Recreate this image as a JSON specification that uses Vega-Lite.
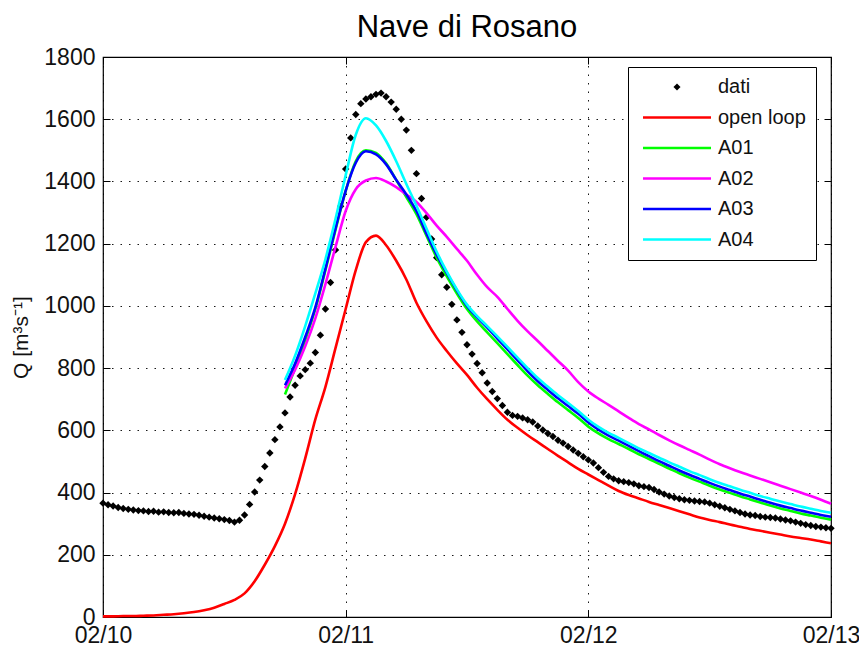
{
  "$schema": "https://vega.github.io/schema/vega-lite/v6.json",
  "width": 728,
  "height": 560,
  "autosize": "none",
  "padding": {"left": 103, "top": 57, "right": 28, "bottom": 34},
  "background": "white",
  "title": {
    "text": "Nave di Rosano",
    "font": "Liberation Sans",
    "fontSize": 31,
    "fontWeight": "normal",
    "color": "black",
    "anchor": "middle",
    "offset": 2
  },
  "config": {
    "view": {"stroke": "black", "strokeWidth": 1.2},
    "axis": {
      "labelFont": "Liberation Sans Narrow, Liberation Sans",
      "labelFontSize": 23,
      "labelColor": "#111111",
      "labelFlush": false,
      "tickColor": "black",
      "tickSize": -7,
      "tickWidth": 1,
      "domain": false,
      "gridColor": "black",
      "gridDash": [1.5, 7],
      "gridWidth": 1,
      "gridOpacity": 0.9,
      "titleFont": "Liberation Sans",
      "titleFontWeight": "normal",
      "titleColor": "#111111"
    }
  },
  "datasets": {
    "dati": [
      {"h":0,"q":366},{"h":0.5,"q":361},{"h":1,"q":357},{"h":1.5,"q":352},{"h":2,"q":349},{"h":2.5,"q":346},
      {"h":3,"q":344},{"h":3.5,"q":342},{"h":4,"q":341},{"h":4.5,"q":339},{"h":5,"q":340},{"h":5.5,"q":337},
      {"h":6,"q":338},{"h":6.5,"q":336},{"h":7,"q":335},{"h":7.5,"q":336},{"h":8,"q":333},{"h":8.5,"q":331},
      {"h":9,"q":330},{"h":9.5,"q":327},{"h":10,"q":324},{"h":10.5,"q":321},{"h":11,"q":318},{"h":11.5,"q":316},
      {"h":12,"q":313},{"h":12.5,"q":310},{"h":13,"q":305},{"h":13.5,"q":311},{"h":14,"q":328},{"h":14.5,"q":362},
      {"h":15,"q":402},{"h":15.5,"q":440},{"h":16,"q":484},{"h":16.5,"q":527},{"h":17,"q":570},{"h":17.5,"q":611},
      {"h":18,"q":656},{"h":18.5,"q":707},{"h":19,"q":745},{"h":19.5,"q":775},{"h":20,"q":795},{"h":20.5,"q":816},
      {"h":21,"q":850},{"h":21.5,"q":906},{"h":22,"q":990},{"h":22.5,"q":1075},{"h":23,"q":1180},{"h":23.5,"q":1320},
      {"h":24,"q":1440},{"h":24.5,"q":1540},{"h":25,"q":1615},{"h":25.5,"q":1650},{"h":26,"q":1665},{"h":26.5,"q":1672},
      {"h":27,"q":1680},{"h":27.5,"q":1684},{"h":28,"q":1672},{"h":28.5,"q":1655},{"h":29,"q":1632},{"h":29.5,"q":1600},
      {"h":30,"q":1565},{"h":30.5,"q":1500},{"h":31,"q":1425},{"h":31.5,"q":1345},{"h":32,"q":1285},{"h":32.5,"q":1215},
      {"h":33,"q":1155},{"h":33.5,"q":1100},{"h":34,"q":1060},{"h":34.5,"q":1005},{"h":35,"q":955},{"h":35.5,"q":915},
      {"h":36,"q":875},{"h":36.5,"q":845},{"h":37,"q":815},{"h":37.5,"q":785},{"h":38,"q":752},{"h":38.5,"q":725},
      {"h":39,"q":702},{"h":39.5,"q":680},{"h":40,"q":658},{"h":40.5,"q":648},{"h":41,"q":645},{"h":41.5,"q":640},
      {"h":42,"q":634},{"h":42.5,"q":627},{"h":43,"q":614},{"h":43.5,"q":601},{"h":44,"q":590},{"h":44.5,"q":580},
      {"h":45,"q":568},{"h":45.5,"q":559},{"h":46,"q":548},{"h":46.5,"q":537},{"h":47,"q":526},{"h":47.5,"q":515},
      {"h":48,"q":505},{"h":48.5,"q":495},{"h":49,"q":480},{"h":49.5,"q":465},{"h":50,"q":452},{"h":50.5,"q":444},
      {"h":51,"q":438},{"h":51.5,"q":435},{"h":52,"q":432},{"h":52.5,"q":428},{"h":53,"q":422},{"h":53.5,"q":419},
      {"h":54,"q":416},{"h":54.5,"q":410},{"h":55,"q":402},{"h":55.5,"q":395},{"h":56,"q":389},{"h":56.5,"q":384},
      {"h":57,"q":380},{"h":57.5,"q":377},{"h":58,"q":375},{"h":58.5,"q":373},{"h":59,"q":371},{"h":59.5,"q":370},
      {"h":60,"q":366},{"h":60.5,"q":361},{"h":61,"q":356},{"h":61.5,"q":351},{"h":62,"q":346},{"h":62.5,"q":341},
      {"h":63,"q":336},{"h":63.5,"q":331},{"h":64,"q":328},{"h":64.5,"q":326},{"h":65,"q":323},{"h":65.5,"q":321},
      {"h":66,"q":320},{"h":66.5,"q":318},{"h":67,"q":315},{"h":67.5,"q":312},{"h":68,"q":309},{"h":68.5,"q":305},
      {"h":69,"q":301},{"h":69.5,"q":297},{"h":70,"q":294},{"h":70.5,"q":291},{"h":71,"q":289},{"h":71.5,"q":287},
      {"h":72,"q":285}
    ],
    "modelli": [
      {"h":0,"open loop":2},{"h":1,"open loop":2},{"h":2,"open loop":3},{"h":3,"open loop":3},
      {"h":4,"open loop":4},{"h":5,"open loop":5},{"h":6,"open loop":7},{"h":7,"open loop":9},
      {"h":8,"open loop":12},{"h":9,"open loop":16},{"h":10,"open loop":22},{"h":11,"open loop":30},
      {"h":12,"open loop":42},{"h":13,"open loop":55},{"h":14,"open loop":76},{"h":15,"open loop":115},
      {"h":16,"open loop":168},{"h":17,"open loop":228},
      {"h":18,"open loop":300,"A01":715,"A02":735,"A03":745,"A04":762},
      {"h":19,"open loop":395,"A01":800,"A02":795,"A03":815,"A04":840},
      {"h":20,"open loop":510,"A01":890,"A02":870,"A03":900,"A04":935},
      {"h":21,"open loop":635,"A01":990,"A02":960,"A03":995,"A04":1040},
      {"h":22,"open loop":740,"A01":1115,"A02":1070,"A03":1120,"A04":1150},
      {"h":23,"open loop":865,"A01":1245,"A02":1190,"A03":1250,"A04":1280},
      {"h":24,"open loop":990,"A01":1370,"A02":1305,"A03":1370,"A04":1420},
      {"h":25,"open loop":1115,"A01":1465,"A02":1375,"A03":1460,"A04":1550},
      {"h":26,"open loop":1205,"A01":1500,"A02":1403,"A03":1497,"A04":1603},
      {"h":27,"open loop":1226,"A01":1492,"A02":1411,"A03":1487,"A04":1580},
      {"h":28,"open loop":1195,"A01":1458,"A02":1400,"A03":1455,"A04":1530},
      {"h":29,"open loop":1145,"A01":1405,"A02":1382,"A03":1405,"A04":1465},
      {"h":30,"open loop":1085,"A01":1350,"A02":1358,"A03":1358,"A04":1392},
      {"h":31,"open loop":1010,"A01":1295,"A02":1334,"A03":1305,"A04":1322},
      {"h":32,"open loop":950,"A01":1225,"A02":1298,"A03":1232,"A04":1248},
      {"h":33,"open loop":898,"A01":1155,"A02":1258,"A03":1165,"A04":1174},
      {"h":34,"open loop":855,"A01":1095,"A02":1222,"A03":1106,"A04":1110},
      {"h":35,"open loop":815,"A01":1040,"A02":1183,"A03":1050,"A04":1053},
      {"h":36,"open loop":778,"A01":990,"A02":1145,"A03":1000,"A04":1004},
      {"h":37,"open loop":737,"A01":950,"A02":1100,"A03":963,"A04":967},
      {"h":38,"open loop":700,"A01":915,"A02":1060,"A03":930,"A04":935},
      {"h":39,"open loop":666,"A01":880,"A02":1029,"A03":895,"A04":902},
      {"h":40,"open loop":634,"A01":845,"A02":990,"A03":860,"A04":868},
      {"h":41,"open loop":608,"A01":810,"A02":952,"A03":825,"A04":834},
      {"h":42,"open loop":584,"A01":776,"A02":918,"A03":790,"A04":800},
      {"h":43,"open loop":562,"A01":745,"A02":887,"A03":758,"A04":768},
      {"h":44,"open loop":540,"A01":717,"A02":855,"A03":730,"A04":740},
      {"h":45,"open loop":518,"A01":690,"A02":823,"A03":703,"A04":713},
      {"h":46,"open loop":497,"A01":665,"A02":792,"A03":678,"A04":688},
      {"h":47,"open loop":476,"A01":640,"A02":755,"A03":653,"A04":662},
      {"h":48,"open loop":458,"A01":612,"A02":725,"A03":625,"A04":634},
      {"h":49,"open loop":440,"A01":590,"A02":702,"A03":602,"A04":611},
      {"h":50,"open loop":422,"A01":572,"A02":682,"A03":583,"A04":592},
      {"h":51,"open loop":405,"A01":556,"A02":661,"A03":567,"A04":576},
      {"h":52,"open loop":392,"A01":540,"A02":640,"A03":550,"A04":559},
      {"h":53,"open loop":381,"A01":523,"A02":620,"A03":533,"A04":542},
      {"h":54,"open loop":370,"A01":508,"A02":603,"A03":517,"A04":527},
      {"h":55,"open loop":360,"A01":492,"A02":585,"A03":501,"A04":512},
      {"h":56,"open loop":350,"A01":477,"A02":568,"A03":486,"A04":497},
      {"h":57,"open loop":340,"A01":462,"A02":552,"A03":471,"A04":483},
      {"h":58,"open loop":330,"A01":448,"A02":537,"A03":457,"A04":469},
      {"h":59,"open loop":320,"A01":435,"A02":522,"A03":444,"A04":456},
      {"h":60,"open loop":312,"A01":422,"A02":506,"A03":431,"A04":443},
      {"h":61,"open loop":305,"A01":410,"A02":491,"A03":419,"A04":431},
      {"h":62,"open loop":297,"A01":399,"A02":478,"A03":408,"A04":420},
      {"h":63,"open loop":290,"A01":388,"A02":466,"A03":397,"A04":409},
      {"h":64,"open loop":283,"A01":378,"A02":455,"A03":387,"A04":399},
      {"h":65,"open loop":277,"A01":368,"A02":444,"A03":377,"A04":389},
      {"h":66,"open loop":271,"A01":358,"A02":433,"A03":367,"A04":380},
      {"h":67,"open loop":265,"A01":349,"A02":422,"A03":358,"A04":371},
      {"h":68,"open loop":259,"A01":341,"A02":411,"A03":350,"A04":363},
      {"h":69,"open loop":254,"A01":333,"A02":400,"A03":342,"A04":355},
      {"h":70,"open loop":249,"A01":326,"A02":389,"A03":335,"A04":348},
      {"h":71,"open loop":243,"A01":319,"A02":377,"A03":328,"A04":341},
      {"h":72,"open loop":237,"A01":313,"A02":364,"A03":322,"A04":335}
    ]
  },
  "resolve": {"axis": {"x": "independent", "y": "independent"}},
  "layer": [
    {
      "data": {"name": "dati"},
      "mark": {"type": "point", "shape": "diamond", "filled": true, "size": 55, "opacity": 1},
      "encoding": {
        "x": {
          "field": "h", "type": "quantitative",
          "scale": {"domain": [0, 72], "nice": false, "zero": false},
          "axis": {
            "title": null, "grid": true, "values": [0, 24, 48, 72],
            "labelPadding": 14,
            "labelExpr": "datum.value == 0 ? '02/10' : datum.value == 24 ? '02/11' : datum.value == 48 ? '02/12' : '02/13'"
          }
        },
        "y": {
          "field": "q", "type": "quantitative",
          "scale": {"domain": [0, 1800], "nice": false},
          "axis": {
            "title": "Q [m³s⁻¹]", "titleFontSize": 21, "titlePadding": 12,
            "grid": true, "format": "d", "values": [0,200,400,600,800,1000,1200,1400,1600,1800],
            "labelPadding": 15
          }
        },
        "color": {"datum": "dati", "type": "nominal"}
      }
    },
    {
      "data": {"name": "modelli"},
      "transform": [
        {"fold": ["open loop", "A01", "A02", "A03", "A04"], "as": ["serie", "q"]},
        {"filter": "isValid(datum.q)"}
      ],
      "mark": {"type": "line", "strokeWidth": 2.6, "interpolate": "monotone"},
      "encoding": {
        "x": {"field": "h", "type": "quantitative", "axis": null},
        "y": {"field": "q", "type": "quantitative", "axis": null},
        "color": {
          "field": "serie", "type": "nominal",
          "scale": {
            "domain": ["dati", "open loop", "A01", "A02", "A03", "A04"],
            "range": ["#000000", "#ff0000", "#00ff00", "#ff00ff", "#0000ff", "#00ffff"]
          },
          "legend": {
            "title": null,
            "orient": "none",
            "legendX": 525,
            "legendY": 10,
            "direction": "vertical",
            "strokeColor": "black",
            "fillColor": "white",
            "padding": 10,
            "symbolType": "stroke",
            "symbolSize": 784,
            "symbolStrokeWidth": 2.6,
            "symbolOffset": 29,
            "rowPadding": 10.5,
            "labelOffset": 31,
            "labelFont": "Liberation Sans",
            "labelFontSize": 20,
            "labelColor": "#111111",
            "encode": {
              "symbols": {
                "update": {
                  "shape": {"signal": "datum.value === 'dati' ? 'diamond' : 'stroke'"},
                  "size": {"signal": "datum.value === 'dati' ? 50 : 4624"},
                  "fill": {"value": "black"},
                  "strokeWidth": {"signal": "datum.value === 'dati' ? 0 : 2.6"}
                }
              }
            }
          }
        }
      }
    },
    {
      "data": {"name": "dati"},
      "mark": {"type": "point", "opacity": 0},
      "encoding": {
        "x": {
          "field": "h", "type": "quantitative",
          "axis": {"orient": "top", "title": null, "labels": false, "grid": false, "values": [0, 24, 48, 72]}
        },
        "y": {
          "field": "q", "type": "quantitative",
          "axis": {"orient": "right", "title": null, "labels": false, "grid": false, "values": [0,200,400,600,800,1000,1200,1400,1600,1800]}
        }
      }
    }
  ]
}
